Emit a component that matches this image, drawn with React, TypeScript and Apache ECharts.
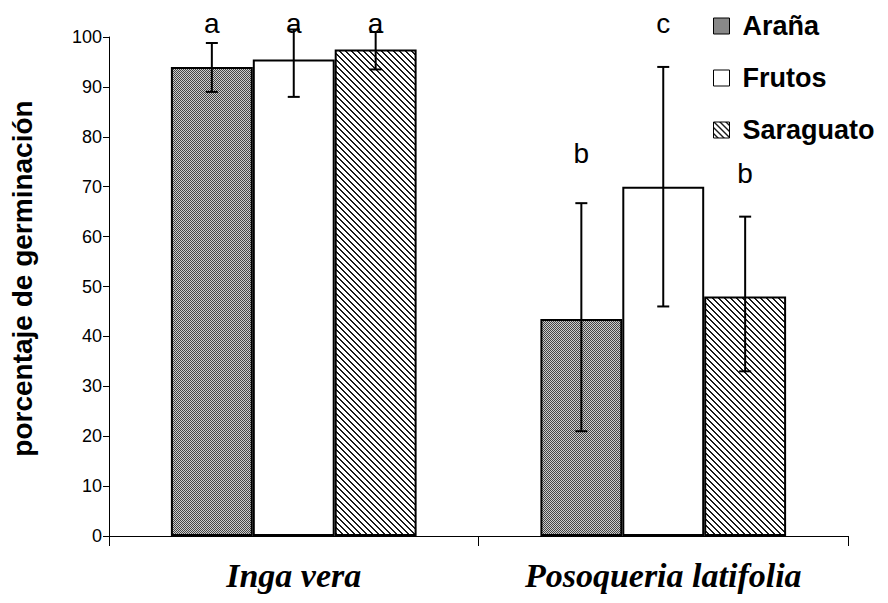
import React, { useEffect, useRef } from "react";
import * as echarts from "echarts";

const categories = ["Inga vera", "Posoqueria latifolia"];
const seriesNames = ["Araña", "Frutos", "Saraguato"];

const aranaValues = [94, 43.5];
const frutosValues = [95.5, 70];
const saraguatoValues = [97.5, 48];

// error bar bounds (low, high) per category
const aranaErr = [[89, 98.8], [21, 66.7]];
const frutosErr = [[88, 101.5], [46, 94]];
const saraguatoErr = [[93.5, 101], [33, 64]];

// significance letters: category, series, vertical position (data units), letter
const letterCats = [0, 0, 0, 1, 1, 1];
const letterSeries = [0, 1, 2, 0, 1, 2];
const letterY = [102.7, 102.7, 102.7, 76.7, 102.7, 72.7];
const letterText = ["a", "a", "a", "b", "c", "b"];

const yTicks = { min: 0, max: 100, interval: 10 };

const CAT_GAP = 0.335;

function checkerPattern(): HTMLCanvasElement {
  const n = 8;
  const c = document.createElement("canvas");
  c.width = n;
  c.height = n;
  const ctx = c.getContext("2d")!;
  ctx.fillStyle = "#cccccc";
  ctx.fillRect(0, 0, n, n);
  ctx.fillStyle = "#444444";
  for (let y = 0; y < n; y++) {
    for (let x = 0; x < n; x++) {
      if ((x + y) % 2 === 0) ctx.fillRect(x, y, 1, 1);
    }
  }
  return c;
}

function stripePattern(): HTMLCanvasElement {
  const n = 6;
  const c = document.createElement("canvas");
  c.width = n;
  c.height = n;
  const ctx = c.getContext("2d")!;
  ctx.fillStyle = "#ffffff";
  ctx.fillRect(0, 0, n, n);
  ctx.fillStyle = "#1a1a1a";
  for (let y = 0; y < n; y++) {
    for (let x = 0; x < n; x++) {
      if ((x - y + n * 2) % n < 2) ctx.fillRect(x, y, 1, 1);
    }
  }
  return c;
}

export default function App() {
  const ref = useRef<HTMLDivElement>(null);

  useEffect(() => {
    document.body.style.margin = "0";
    const chart = echarts.init(ref.current!, undefined, { renderer: "svg" });

    const fills = [
      { image: checkerPattern(), repeat: "repeat" },
      "#ffffff",
      { image: stripePattern(), repeat: "repeat" },
    ];
    const values = [aranaValues, frutosValues, saraguatoValues];
    const errs = [aranaErr, frutosErr, saraguatoErr];

    const errData: number[][] = [];
    errs.forEach((e, s) =>
      e.forEach((pair, cat) => errData.push([cat, s, pair[0], pair[1]]))
    );
    const letterData = letterCats.map((c, i) => [c, letterSeries[i], letterY[i]]);

    const barOffset = (api: any, cat: number, s: number) => {
      const band = api.size([1, 0])[0];
      const barW = (band * (1 - CAT_GAP)) / 3;
      return api.coord([cat, 0])[0] + (s - 1) * barW;
    };

    const option: any = {
      animation: false,
      textStyle: { fontFamily: "Liberation Sans" },
      grid: { left: 108, right: 40, top: 37, bottom: 67 },
      legend: {
        orient: "vertical",
        left: 708,
        top: 7,
        itemWidth: 16,
        itemHeight: 16,
        itemGap: 24,
        icon: "rect",
        data: seriesNames,
        itemStyle: { borderWidth: 1, borderColor: "#000" },
        textStyle: {
          fontFamily: "Liberation Sans",
          fontWeight: "bold",
          fontSize: 27,
          lineHeight: 28,
          color: "#000",
          padding: [0, 0, 0, 8],
        },
      },
      xAxis: {
        type: "category",
        data: categories,
        axisLine: { lineStyle: { color: "#000", width: 1 } },
        axisTick: { show: true, length: 10, inside: false, lineStyle: { color: "#000" } },
        axisLabel: {
          margin: 22,
          fontFamily: "Liberation Serif",
          fontStyle: "italic",
          fontWeight: "bold",
          fontSize: 34,
          color: "#000",
        },
      },
      yAxis: {
        type: "value",
        min: yTicks.min,
        max: yTicks.max,
        interval: yTicks.interval,
        name: "porcentaje de germinación",
        nameLocation: "middle",
        nameGap: 73,
        nameTextStyle: {
          fontFamily: "Liberation Sans",
          fontWeight: "bold",
          fontSize: 28,
          color: "#000",
          padding: [0, 0, 0, 16],
        },
        axisLine: { show: true, lineStyle: { color: "#000", width: 1 } },
        axisTick: { show: true, length: 6, lineStyle: { color: "#000" } },
        axisLabel: {
          fontFamily: "Liberation Sans",
          fontSize: 18,
          color: "#000",
          margin: 7,
        },
        splitLine: { show: false },
      },
      series: [
        ...seriesNames.map((name, i) => ({
          name,
          type: "bar",
          data: values[i],
          barGap: "0%",
          barCategoryGap: CAT_GAP * 100 + "%",
          itemStyle: { color: fills[i], borderColor: "#000", borderWidth: 2 },
        })),
        {
          type: "custom",
          name: "err",
          data: errData,
          z: 5,
          renderItem: (params: any, api: any) => {
            const cat = api.value(0);
            const s = api.value(1);
            const x = barOffset(api, cat, s);
            const yLow = api.coord([cat, api.value(2)])[1];
            const yHigh = api.coord([cat, api.value(3)])[1];
            const cap = 6;
            const st = { stroke: "#000", lineWidth: 2 };
            return {
              type: "group",
              children: [
                { type: "line", shape: { x1: x, y1: yLow, x2: x, y2: yHigh }, style: st },
                { type: "line", shape: { x1: x - cap, y1: yLow, x2: x + cap, y2: yLow }, style: st },
                { type: "line", shape: { x1: x - cap, y1: yHigh, x2: x + cap, y2: yHigh }, style: st },
              ],
            };
          },
        },
        {
          type: "custom",
          name: "letters",
          data: letterData,
          z: 6,
          renderItem: (params: any, api: any) => {
            const cat = api.value(0);
            const s = api.value(1);
            const x = barOffset(api, cat, s);
            const y = api.coord([cat, api.value(2)])[1];
            return {
              type: "text",
              style: {
                x,
                y,
                text: letterText[params.dataIndex],
                align: "center",
                verticalAlign: "middle",
                fontFamily: "Liberation Sans",
                fontSize: 28,
                fill: "#000",
              },
            };
          },
        },
      ],
    };

    chart.setOption(option);
    return () => chart.dispose();
  }, []);

  return <div ref={ref} style={{ width: 888, height: 603 }} />;
}
